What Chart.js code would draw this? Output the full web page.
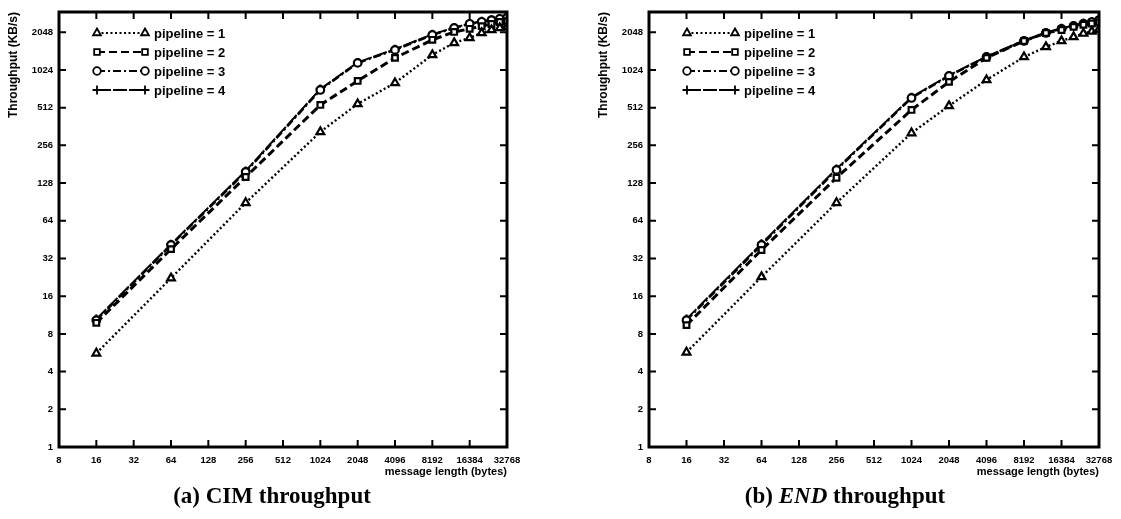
<!DOCTYPE html>
<html><head><meta charset="utf-8">
<script src="https://cdn.jsdelivr.net/npm/chart.js@4"></script>
<style>
body{margin:0;background:#fff;width:1121px;height:519px;overflow:hidden;position:relative;}
.box{position:absolute;top:0;height:519px;}
canvas{display:block}
.cap{position:absolute;top:483px;font-family:"Liberation Serif",serif;font-weight:bold;font-size:23px;color:#000;white-space:nowrap;transform:translateX(-50%);}
</style></head><body>
<div class="box" style="left:0;width:560px"><canvas id="c1"></canvas></div>
<div class="box" style="left:560px;width:561px"><canvas id="c2"></canvas></div>
<div class="cap" style="left:272px">(a) CIM throughput</div>
<div class="cap" style="left:845px">(b) <i>END</i> throughput</div>
<script>
// ---- data ----
const msgLen = [16, 64, 256, 1024, 2048, 4096, 8192, 12288, 16384, 20480, 24576, 28672, 32768];
const xTickVals = [8, 16, 32, 64, 128, 256, 512, 1024, 2048, 4096, 8192, 16384, 32768];
const yTickVals = [1, 2, 4, 8, 16, 32, 64, 128, 256, 512, 1024, 2048];
const seriesLabels = ['pipeline = 1', 'pipeline = 2', 'pipeline = 3', 'pipeline = 4'];

const cimP1 = [5.6, 22.3, 89, 328, 548, 806, 1350, 1685, 1845, 2020, 2135, 2215, 2260];
const cimP2 = [9.8, 38, 143, 538, 837, 1278, 1780, 2060, 2180, 2290, 2380, 2470, 2510];
const cimP3 = [10.3, 41, 157, 709, 1165, 1480, 1950, 2215, 2390, 2480, 2560, 2620, 2680];
const cimP4 = [10.5, 41.5, 160, 720, 1175, 1500, 1970, 2230, 2400, 2500, 2580, 2640, 2700];

const endP1 = [5.7, 22.8, 89, 321, 529, 852, 1300, 1563, 1745, 1880, 2000, 2080, 2160];
const endP2 = [9.4, 37.4, 141, 491, 822, 1278, 1745, 2020, 2135, 2260, 2350, 2400, 2450];
const endP3 = [10.3, 41, 163, 612, 917, 1300, 1745, 2020, 2180, 2300, 2400, 2470, 2560];
const endP4 = [10.5, 42, 166, 620, 925, 1310, 1760, 2040, 2200, 2320, 2420, 2490, 2580];

// ---- styles ----
const styles = [
  {dash:[2,2.5], width:2.4, point:'triangle', r:4.5},
  {dash:[8,4], width:3, point:'rect', r:4},
  {dash:[8,3,2,3], width:2.5, point:'circle', r:3.8},
  {dash:[14,2], width:2, point:'cross', r:4.5}
];

function makeDatasets(series){
  return series.map((s,k)=>({
    label: seriesLabels[k],
    data: msgLen.map((x,i)=>({x:x, y:s[i]})),
    borderColor:'#000', borderWidth:styles[k].width, borderDash:styles[k].dash,
    pointStyle:styles[k].point, pointRadius:styles[k].r, pointBorderWidth:2.2,
    pointBackgroundColor:'#fff', pointBorderColor:'#000', fill:false, tension:0
  }));
}

const frameTicks = {
  id:'frameTicks',
  afterDraw(chart){
    const ctx = chart.ctx, a = chart.chartArea, xs = chart.scales.x, ys = chart.scales.y;
    ctx.save();
    ctx.strokeStyle = '#000';
    ctx.setLineDash([]);
    ctx.lineWidth = 2;
    const L = 7;
    xTickVals.slice(1, -1).forEach(v=>{
      const px = xs.getPixelForValue(v);
      ctx.beginPath();
      ctx.moveTo(px, a.bottom); ctx.lineTo(px, a.bottom - L);
      ctx.moveTo(px, a.top); ctx.lineTo(px, a.top + L);
      ctx.stroke();
    });
    yTickVals.slice(1).forEach(v=>{
      const py = ys.getPixelForValue(v);
      ctx.beginPath();
      ctx.moveTo(a.left, py); ctx.lineTo(a.left + L, py);
      ctx.moveTo(a.right, py); ctx.lineTo(a.right - L, py);
      ctx.stroke();
    });
    ctx.lineWidth = 3;
    ctx.strokeRect(a.left, a.top, a.right - a.left, a.bottom - a.top);
    // legend
    ctx.font = 'bold 13px "Liberation Sans", Arial, sans-serif';
    ctx.fillStyle = '#000';
    ctx.textBaseline = 'middle';
    const rows = [33, 52, 71, 90];
    chart.data.datasets.forEach((ds,k)=>{
      const y = rows[k], x0 = a.left + 38, x1 = a.left + 86;
      ctx.lineWidth = Math.min(ds.borderWidth, 2);
      ctx.setLineDash(ds.borderDash);
      ctx.beginPath(); ctx.moveTo(x0, y); ctx.lineTo(x1, y); ctx.stroke();
      ctx.setLineDash([]);
      const po = {pointStyle: ds.pointStyle, radius: ds.pointRadius, borderWidth: ds.pointBorderWidth};
      ctx.fillStyle = '#fff';
      ctx.lineWidth = 1.8;
      Chart.helpers.drawPoint(ctx, po, x0, y);
      Chart.helpers.drawPoint(ctx, po, x1, y);
      ctx.fillStyle = '#000';
      ctx.fillText(ds.label, a.left + 95, y + 1);
    });
    ctx.restore();
  }
};

const tickFont = {family:'"Liberation Sans", Arial, sans-serif', weight:'bold', size:9.5};
const titleFont = {family:'"Liberation Sans", Arial, sans-serif', weight:'bold', size:12};

function makeChart(id, series, padLeft, padRight){
  return new Chart(document.getElementById(id), {
    type:'line',
    data:{datasets: makeDatasets(series)},
    options:{
      responsive:true, maintainAspectRatio:false, animation:false,
      layout:{padding:{left:padLeft, right:padRight, top:12, bottom:40}},
      plugins:{legend:{display:false}, tooltip:{enabled:false}},
      scales:{
        x:{type:'logarithmic', min:8, max:32768,
          grid:{display:false, drawTicks:false}, border:{display:false},
          afterBuildTicks:s=>{s.ticks = xTickVals.map(v=>({value:v}));},
          afterFit:s=>{s.height = 32;},
          ticks:{font:tickFont, color:'#000', padding:8, maxRotation:0, autoSkip:false, callback:v=>String(v)},
          title:{display:true, text:'message length (bytes)', align:'end', font:{...titleFont, size:11}, color:'#000', padding:0}
        },
        y:{type:'logarithmic', min:1, max:2970,
          grid:{display:false, drawTicks:false}, border:{display:false},
          afterBuildTicks:s=>{s.ticks = yTickVals.map(v=>({value:v}));},
          afterFit:s=>{s.width = 59;},
          ticks:{font:tickFont, color:'#000', padding:6, autoSkip:false, callback:v=>String(v)},
          title:{display:true, text:'Throughput (KB/s)', align:'end', font:titleFont, color:'#000', padding:{top:6, bottom:0}}
        }
      }
    },
    plugins:[frameTicks]
  });
}

makeChart('c1', [cimP1, cimP2, cimP3, cimP4], 0, 53);
makeChart('c2', [endP1, endP2, endP3, endP4], 30, 22);
</script>
</body></html>
